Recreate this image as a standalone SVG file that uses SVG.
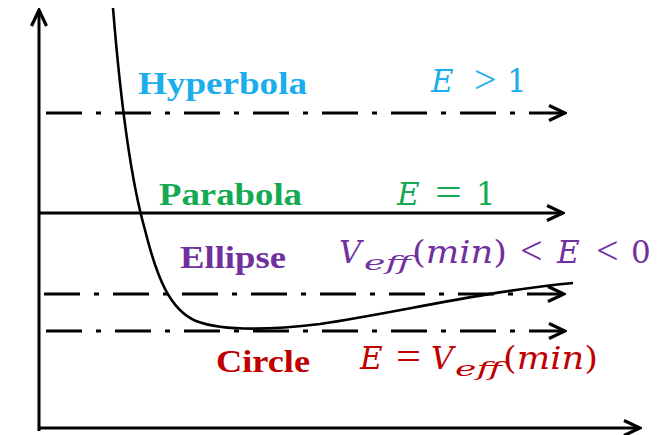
<svg xmlns="http://www.w3.org/2000/svg" width="664" height="435" viewBox="0 0 664 435">
<style>
.ln{stroke:#000;stroke-width:3;fill:none}
.dd{stroke-dasharray:36 14 5 14}
.cv{stroke:#000;stroke-width:2.6;fill:none}
.lbl{font-family:"Liberation Serif","Times New Roman",serif;font-weight:bold;font-size:32px}
.m{font-family:"DejaVu Serif",serif;font-size:31px}
.r{font-family:"Liberation Serif","Times New Roman",serif;font-size:40px}
.s{font-family:"DejaVu Serif",serif;font-size:21px;font-style:italic}
.i{font-style:italic}
.blue{fill:#1CAEEC}
.green{fill:#13AA52}
.purple{fill:#7030A0}
.red{fill:#C00000}
</style>
<defs>
<marker id="arr" viewBox="0 0 20 18" refX="18" refY="9" markerWidth="20" markerHeight="18" markerUnits="userSpaceOnUse" orient="auto">
<path d="M2,1.5 L18,9 L2,16.5" fill="none" stroke="#000" stroke-width="3.2"/>
</marker>
</defs>
<g id="connectors">
<line id="y-axis" class="ln" x1="39" y1="431" x2="39" y2="10" marker-end="url(#arr)"/>
<line id="x-axis" class="ln" x1="38" y1="428" x2="640" y2="428" marker-end="url(#arr)"/>
<line id="hyperbola-line" class="ln dd" x1="46" y1="113" x2="565" y2="113" marker-end="url(#arr)"/>
<line id="parabola-line" class="ln" x1="39" y1="213" x2="563" y2="213" marker-end="url(#arr)"/>
<line id="ellipse-line" class="ln dd" x1="44" y1="294" x2="564" y2="294" marker-end="url(#arr)"/>
<line id="circle-line" class="ln dd" x1="46" y1="331" x2="565" y2="331" marker-end="url(#arr)"/>
<path id="veff-curve" class="cv" d="M113,8 C118,70 128,170 145,230 C157,278 170,310 196,321 C222,331 270,330 320,324 C400,312 480,292 573,283"/>
</g>
<g id="hyperbola">
<text class="lbl blue" x="138" y="94" textLength="169" lengthAdjust="spacingAndGlyphs">Hyperbola</text>
<text class="m blue i" x="431" y="92">E</text>
<text class="r blue" x="474" y="93">&gt;</text>
<text class="m blue" x="507" y="92">1</text>
</g>
<g id="parabola">
<text class="lbl green" x="159" y="205" textLength="143" lengthAdjust="spacingAndGlyphs">Parabola</text>
<text class="m green i" x="397" y="205">E</text>
<text class="r green" x="435" y="206" textLength="27" lengthAdjust="spacingAndGlyphs">=</text>
<text class="m green" x="476" y="205">1</text>
</g>
<g id="ellipse">
<text class="lbl purple" x="180" y="268" textLength="106" lengthAdjust="spacingAndGlyphs">Ellipse</text>
<text class="m purple i" x="339" y="263">V</text>
<text class="s purple" x="364" y="270" textLength="47" lengthAdjust="spacingAndGlyphs">eff</text>
<text class="m purple" x="412" y="263" textLength="95" lengthAdjust="spacingAndGlyphs">(<tspan class="i">min</tspan>)</text>
<text class="r purple" x="520" y="264">&lt;</text>
<text class="m purple i" x="557" y="263">E</text>
<text class="r purple" x="596" y="264">&lt;</text>
<text class="m purple" x="631" y="263">0</text>
</g>
<g id="circle">
<text class="lbl red" x="216" y="372" textLength="94" lengthAdjust="spacingAndGlyphs">Circle</text>
<text class="m red i" x="360" y="369">E</text>
<text class="r red" x="396" y="370" textLength="25" lengthAdjust="spacingAndGlyphs">=</text>
<text class="m red i" x="431" y="369">V</text>
<text class="s red" x="455" y="376" textLength="47" lengthAdjust="spacingAndGlyphs">eff</text>
<text class="m red" x="503" y="369" textLength="95" lengthAdjust="spacingAndGlyphs">(<tspan class="i">min</tspan>)</text>
</g>
</svg>
